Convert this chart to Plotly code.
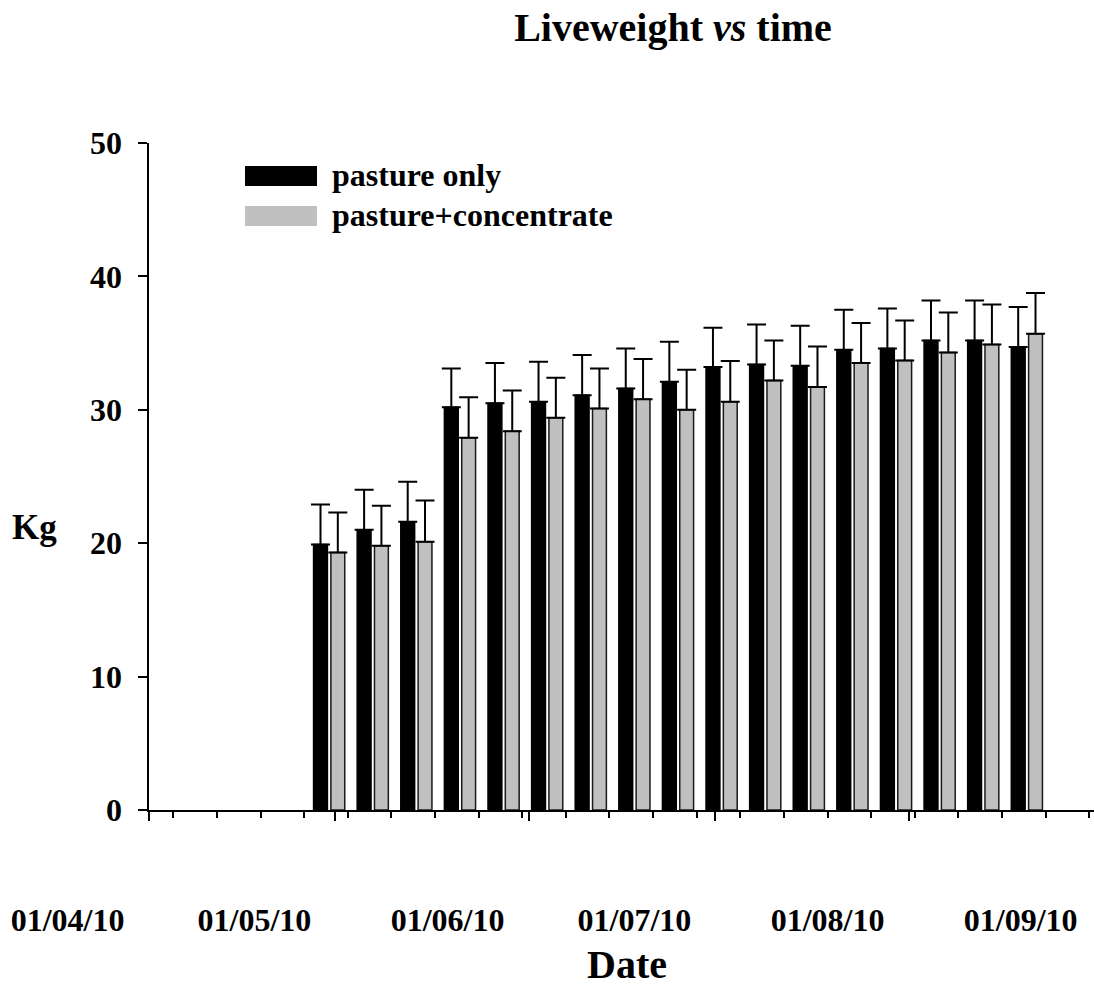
import pandas as pd
import plotly.graph_objects as go

# ---------------- data ----------------
weigh_dates = pd.date_range("2010-04-30", periods=17, freq="7D")
pasture_only = [19.9, 21.0, 21.6, 30.2, 30.5, 30.6, 31.1, 31.6, 32.1, 33.2,
                33.4, 33.3, 34.5, 34.6, 35.2, 35.2, 34.7]
pasture_only_err = [3.0, 3.0, 3.0, 2.9, 3.0, 3.0, 3.0, 3.0, 3.0, 2.95,
                    3.0, 3.0, 3.0, 3.0, 3.0, 3.0, 3.0]
pasture_conc = [19.3, 19.8, 20.1, 27.9, 28.4, 29.4, 30.1, 30.8, 30.0, 30.6,
                32.2, 31.7, 33.5, 33.7, 34.3, 34.9, 35.7]
pasture_conc_err = [3.0, 3.0, 3.1, 3.05, 3.05, 3.0, 3.0, 3.0, 3.0, 3.05,
                    3.0, 3.05, 3.0, 3.0, 3.0, 3.0, 3.05]
series_names = ["pasture only", "pasture+concentrate"]
y_ticks = [0, 10, 20, 30, 40, 50]
title_text = "Liveweight <i>vs</i> time"
x_title = "Date"
y_title = "Kg"

# ---------------- layout constants ----------------
W, H = 1094, 989
FONT = "Liberation Serif, Times New Roman, serif"
BLACK = "#000000"
GREY = "#c0c0c0"
PLOT_L = 148.5                       # px where the y axis sits
PLOT_T, PLOT_B = 143, 810
PX_PER_DAY = 6.2295
LABEL_SHIFT_DAYS = 13.0              # date labels sit left of their month ticks

x_start = pd.Timestamp("2010-04-01")
x_end = x_start + pd.Timedelta(days=(W - PLOT_L) / PX_PER_DAY)
lab_start = (x_start - pd.Timedelta(days=PLOT_L / PX_PER_DAY)
             + pd.Timedelta(days=LABEL_SHIFT_DAYS))
lab_end = x_end + pd.Timedelta(days=LABEL_SHIFT_DAYS)

plot_h = PLOT_B - PLOT_T


def px_x(px):
    """pixel column -> paper x"""
    return px / W


def px_y(px):
    """pixel row -> paper y"""
    return (PLOT_B - px) / plot_h


fig = go.Figure()
fig.add_trace(go.Bar(
    x=weigh_dates, y=pasture_only, name=series_names[0],
    marker=dict(color=BLACK, line=dict(color=BLACK, width=1.5)),
    error_y=dict(type="data", array=pasture_only_err, symmetric=False,
                 arrayminus=[0] * len(pasture_only), color=BLACK,
                 thickness=2, width=9.5),
))
fig.add_trace(go.Bar(
    x=weigh_dates, y=pasture_conc, name=series_names[1],
    marker=dict(color=GREY, line=dict(color="#1a1a1a", width=1.5)),
    error_y=dict(type="data", array=pasture_conc_err, symmetric=False,
                 arrayminus=[0] * len(pasture_conc), color=BLACK,
                 thickness=2, width=9.5),
))
# empty trace so that the date-label axis (x2) is built and drawn
fig.add_trace(go.Scatter(x=[], y=[], xaxis="x2", yaxis="y",
                         showlegend=False, hoverinfo="skip"))

fig.update_layout(
    width=W, height=H,
    margin=dict(l=0, r=0, t=PLOT_T, b=H - PLOT_B, pad=0),
    paper_bgcolor="white", plot_bgcolor="rgba(0,0,0,0)",
    showlegend=False,
    barmode="group", bargap=0.206, bargroupgap=0.2,
    font=dict(family=FONT, color="black", size=32),
    title=dict(text=title_text, x=px_x(673), xanchor="center", xref="container",
               y=1 - 27 / H, yanchor="middle", yref="container",
               font=dict(family=FONT, size=40, weight="bold", color="black")),
    xaxis=dict(
        type="date", domain=[PLOT_L / W, 1], range=[x_start, x_end],
        showline=True, linecolor="black", linewidth=2,
        showgrid=False, zeroline=False, showticklabels=False,
        ticks="outside", ticklen=9, tickwidth=1.7, tickcolor="black",
        tick0="2010-04-01", dtick="M1",
        minor=dict(ticks="outside", ticklen=6, tickwidth=1.7, tickcolor="black",
                   tick0="2010-04-05", dtick=7 * 86400000, showgrid=False),
    ),
    xaxis2=dict(
        type="date", domain=[0, 1], anchor="y", range=[lab_start, lab_end],
        showline=False, showgrid=False, zeroline=False, ticks="",
        tick0="2010-04-01", dtick="M1", tickformat="%d/%m/%y",
        ticklabelstandoff=88, fixedrange=True,
        tickfont=dict(family=FONT, size=32, weight="bold", color="black"),
    ),
    yaxis=dict(
        range=[0, 50], tickvals=y_ticks, anchor="x",
        showline=True, linecolor="black", linewidth=2,
        showgrid=False, zeroline=False,
        ticks="outside", ticklen=9, tickwidth=1.7, tickcolor="black",
        ticklabelstandoff=9,
        tickfont=dict(family=FONT, size=32, weight="bold", color="black"),
    ),
)

# axis titles
fig.add_annotation(text=y_title, xref="paper", yref="paper",
                   x=px_x(34), y=px_y(527), xanchor="center", yanchor="middle",
                   showarrow=False,
                   font=dict(family=FONT, size=35, weight="bold", color="black"))
fig.add_annotation(text=x_title, xref="paper", yref="paper",
                   x=px_x(627), y=px_y(964), xanchor="center", yanchor="middle",
                   showarrow=False,
                   font=dict(family=FONT, size=40, weight="bold", color="black"))

# legend (wide key boxes like the original)
legend_rows = [(series_names[0], BLACK, 166, 186), (series_names[1], GREY, 206, 226)]
for name, col, top, bot in legend_rows:
    fig.add_shape(type="rect", xref="paper", yref="paper",
                  x0=px_x(245), x1=px_x(317), y0=px_y(bot), y1=px_y(top),
                  fillcolor=col, line=dict(width=0))
    fig.add_annotation(text=name, xref="paper", yref="paper",
                       x=px_x(330), y=px_y((top + bot) / 2 - 1), xanchor="left",
                       yanchor="middle", showarrow=False,
                       font=dict(family=FONT, size=32, weight="bold", color="black"))

# the page's default 8px body margin would shift the figure; remove it
fig.write_html("out.html",
               config={"displayModeBar": False},
               post_script="document.body.style.margin='0';"
                           "document.body.style.padding='0';")
